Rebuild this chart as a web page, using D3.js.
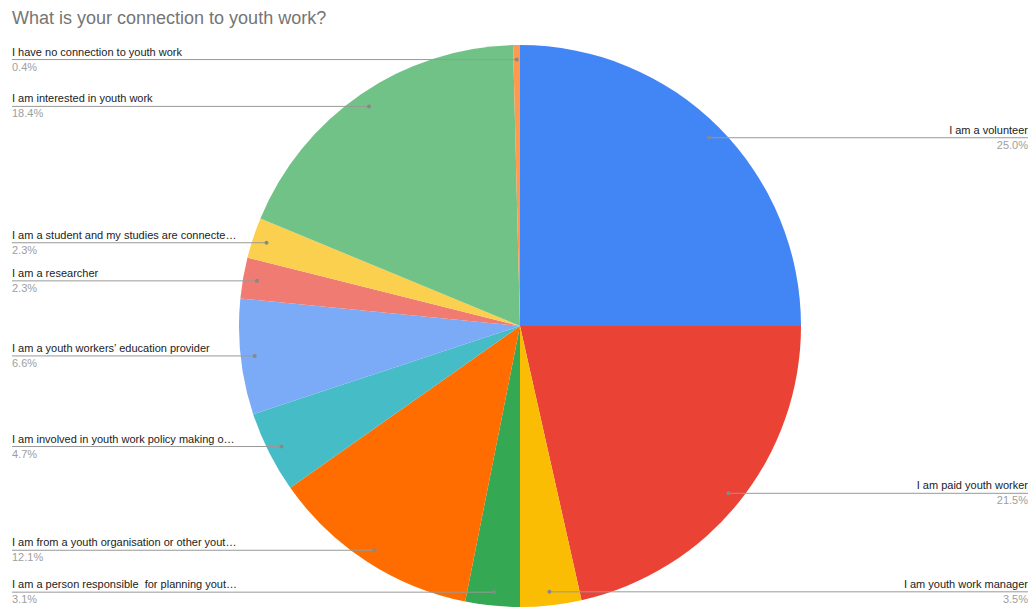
<!DOCTYPE html>
<html>
<head>
<meta charset="utf-8">
<script src="https://cdn.jsdelivr.net/npm/d3@7"></script>
<style>
  body { margin: 0; background: #fff; }
  svg { font-family: "Liberation Sans", Arial, sans-serif; }
  text { white-space: pre; }
</style>
</head>
<body>
<svg width="1032" height="607"></svg>
<script>
// responses per category, clockwise from 12 o'clock
const categories = [
  'I am a volunteer',
  'I am paid youth worker',
  'I am youth work manager',
  'I am a person responsible  for planning yout…',
  'I am from a youth organisation or other yout…',
  'I am involved in youth work policy making o…',
  'I am a youth workers’ education provider',
  'I am a researcher',
  'I am a student and my studies are connecte…',
  'I am interested in youth work',
  'I have no connection to youth work'
];
const counts = [64, 55, 9, 8, 31, 12, 17, 6, 6, 47, 1];
const colors = ['#4285f4', '#ea4335', '#fbbc04', '#34a853', '#ff6d01', '#46bdc6',
                '#7baaf7', '#f07b72', '#fcd04f', '#71c287', '#ff994d'];

function whenLoaded() {
const svg = d3.select('svg');
const cx = 520, cy = 326, r = 281;
const total = d3.sum(counts);
const pctFormat = d3.format('.1%');

svg.append('text')
  .attr('x', 12).attr('y', 24)
  .attr('font-size', 18)
  .attr('fill', '#757575')
  .text('What is your connection to youth work?');

const data = categories.map((c, i) => ({ name: c, value: counts[i], color: colors[i] }));
const pie = d3.pie().value(d => d.value).sort(null);
const arcs = pie(data);
const arc = d3.arc().innerRadius(0).outerRadius(r);

const g = svg.append('g').attr('transform', `translate(${cx},${cy})`);
g.selectAll('path').data(arcs)
  .enter().append('path')
    .attr('d', arc)
    .attr('fill', d => d.data.color);

const labels = svg.append('g');
arcs.forEach(d => {
  const mid = (d.startAngle + d.endAngle) / 2;
  const px = cx + Math.sin(mid) * r * 0.95;
  const py = cy - Math.cos(mid) * r * 0.95 + 0.5;
  const right = Math.sin(mid) > 0;
  const tx = right ? 1028 : 12;
  const anchor = right ? 'end' : 'start';

  labels.append('line')
    .attr('x1', tx).attr('x2', px)
    .attr('y1', py).attr('y2', py)
    .attr('stroke', '#999').attr('stroke-width', 1);
  labels.append('circle')
    .attr('cx', px).attr('cy', py).attr('r', 2)
    .attr('fill', '#888');
  labels.append('text')
    .attr('x', tx).attr('y', py - 4)
    .attr('text-anchor', anchor)
    .attr('font-size', 11).attr('fill', '#222')
    .text(d.data.name);
  labels.append('text')
    .attr('x', tx).attr('y', py + 11)
    .attr('text-anchor', anchor)
    .attr('font-size', 11).attr('fill', '#9e9e9e')
    .text(pctFormat(d.data.value / total));
});
}

window.onload = whenLoaded;
</script>
</body>
</html>
